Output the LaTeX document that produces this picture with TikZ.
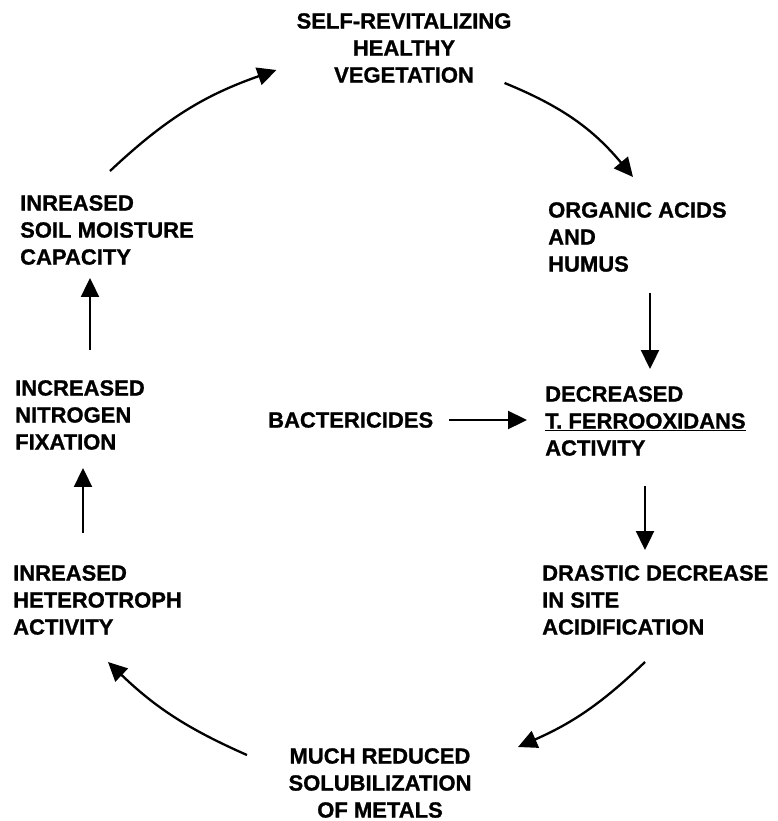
\documentclass[tikz,border=0pt]{standalone}
\usepackage{fontspec}
\setmainfont{Liberation Sans}[BoldFeatures={FakeBold=1}]
\usetikzlibrary{arrows.meta,calc}
\tikzset{
  lbl/.style={font=\bfseries\fontsize{22}{27}\selectfont, align=left, inner sep=0pt, anchor=west},
  ctr/.style={font=\bfseries\fontsize{22}{27}\selectfont, align=center, inner sep=0pt, anchor=center},
  arr/.style={line width=2.3pt, -{Triangle[length=19pt,width=18pt]}}
}
\begin{document}
\begin{tikzpicture}[x=1pt,y=-1pt]
\useasboundingbox (0,0) rectangle (778,821);
\node[ctr] (veg) at (404,48) {SELF-REVITALIZING\\HEALTHY\\VEGETATION};
\node[lbl] (organic) at (548,237) {ORGANIC ACIDS\\AND\\HUMUS};
\node[lbl] (decr) at (545,421) {DECREASED\\\underline{T. FERROOXIDANS}\\ACTIVITY};
\node[lbl] (drastic) at (542,600) {DRASTIC DECREASE\\IN SITE\\ACIDIFICATION};
\node[ctr] (metals) at (380,783) {MUCH REDUCED\\SOLUBILIZATION\\OF METALS};
\node[lbl] (hetero) at (13,600) {INREASED\\HETEROTROPH\\ACTIVITY};
\node[lbl] (nitro) at (15,415) {INCREASED\\NITROGEN\\FIXATION};
\node[lbl] (soil) at (20,230) {INREASED\\SOIL MOISTURE\\CAPACITY};
\node[lbl] (bact) at (268,420) {BACTERICIDES};

\draw[arr] ($(soil.north west)+(90,-24)$) to[bend left=12] ($(veg.west)+(-20,22)$);
\draw[arr] ($(veg.south east)+(-7,0)$) to[bend left=14] ($(organic.north west)+(85,-25)$);
\draw[arr] ($(organic.south west)+(102,21)$) -- ($(decr.north west)+(105,-17)$);
\draw[arr] ($(bact.east)+(16,0)$) -- ($(bact.east -| decr.west)+(-18,0)$);
\draw[arr] ($(decr.south west)+(100,30)$) -- ($(drastic.north west)+(103,-15)$);
\draw[arr] ($(drastic.south west)+(103,27)$) to[bend left=10] ($(metals.north)+(138,-1)$);
\draw[arr] ($(metals.north)+(-133,7)$) to[bend left=10] ($(hetero.south west)+(95,27)$);
\draw[arr] ($(hetero.north west)+(70,-32)$) -- ($(nitro.south west)+(68,18)$);
\draw[arr] ($(nitro.north west)+(75,-30)$) -- ($(soil.south west)+(70,13)$);
\end{tikzpicture}
\end{document}
